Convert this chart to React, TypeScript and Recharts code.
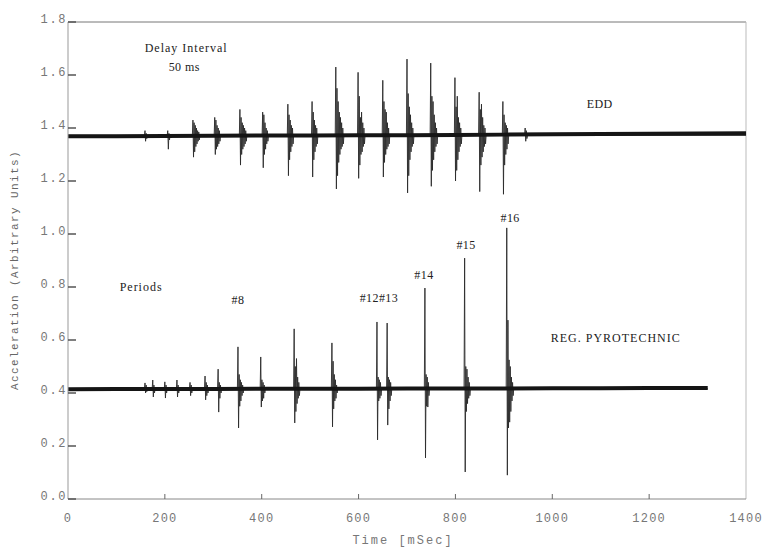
import React from 'react';
import { LineChart, Line, XAxis, YAxis, ReferenceLine, ReferenceDot } from 'recharts';

const X_TICKS = [0, 200, 400, 600, 800, 1000, 1200, 1400];
const Y_TICKS = [0, 0.2, 0.4, 0.6, 0.8, 1.0, 1.2, 1.4, 1.6, 1.8];

// EDD record (upper trace)
const EDD_BASE = 1.372;
const eddBaseTimes = [0, 100, 200, 300, 400, 500, 600, 700, 800, 900, 1000, 1100, 1200, 1300, 1400];
const eddBaseValues = [1.369, 1.369, 1.37, 1.371, 1.372, 1.372, 1.373, 1.373, 1.374, 1.375, 1.376, 1.377, 1.378, 1.379, 1.38];
const eddBurstTimes = [159, 206, 258, 303, 355, 402, 454, 504, 553, 599, 650, 700, 749, 799, 849, 898, 944];
const eddBurstShapes = [
  [1.39, 1.35, 1.38, 1.36],
  [1.39, 1.32, 1.38, 1.355, 1.375],
  [1.43, 1.29, 1.42, 1.31, 1.41, 1.33, 1.4, 1.34, 1.39, 1.35, 1.385, 1.355],
  [1.44, 1.3, 1.43, 1.32, 1.41, 1.33, 1.4, 1.34, 1.39, 1.35],
  [1.47, 1.26, 1.44, 1.3, 1.42, 1.32, 1.41, 1.33, 1.4, 1.34, 1.39, 1.35],
  [1.46, 1.25, 1.45, 1.3, 1.42, 1.32, 1.4, 1.34, 1.39, 1.35],
  [1.49, 1.22, 1.45, 1.28, 1.43, 1.31, 1.41, 1.33, 1.4, 1.34],
  [1.5, 1.215, 1.46, 1.28, 1.43, 1.31, 1.41, 1.33, 1.4, 1.34],
  [1.63, 1.17, 1.55, 1.22, 1.5, 1.27, 1.46, 1.3, 1.44, 1.32, 1.42, 1.33, 1.4, 1.34],
  [1.61, 1.21, 1.52, 1.26, 1.44, 1.3, 1.46, 1.31, 1.42, 1.33, 1.4, 1.34],
  [1.58, 1.215, 1.5, 1.27, 1.47, 1.3, 1.46, 1.32, 1.42, 1.33, 1.4, 1.34],
  [1.66, 1.155, 1.53, 1.22, 1.48, 1.28, 1.45, 1.31, 1.42, 1.33, 1.4, 1.34],
  [1.645, 1.18, 1.52, 1.24, 1.5, 1.28, 1.45, 1.31, 1.42, 1.33, 1.4, 1.34],
  [1.59, 1.2, 1.48, 1.24, 1.52, 1.28, 1.44, 1.31, 1.42, 1.33, 1.4, 1.34],
  [1.535, 1.16, 1.47, 1.26, 1.49, 1.29, 1.44, 1.31, 1.41, 1.33, 1.4, 1.34],
  [1.5, 1.15, 1.45, 1.26, 1.42, 1.3, 1.41, 1.32, 1.4, 1.34],
  [1.4, 1.35, 1.39, 1.36],
];

// Regular pyrotechnic record (lower trace)
const PYRO_BASE = 0.416;
const PYRO_END = 1321;
const pyroBaseTimes = [0, 100, 200, 300, 400, 500, 600, 700, 800, 900, 1000, 1100, 1200, 1321];
const pyroBaseValues = [0.414, 0.415, 0.415, 0.415, 0.416, 0.416, 0.416, 0.417, 0.417, 0.417, 0.418, 0.418, 0.419, 0.419];
const pyroBurstTimes = [159, 175, 200, 225, 252, 283, 310, 351, 398, 467, 545, 638, 659, 737, 819, 906];
const pyroBurstShapes = [
  [0.438, 0.4, 0.43, 0.405],
  [0.449, 0.385, 0.43, 0.4],
  [0.442, 0.381, 0.43, 0.4],
  [0.449, 0.385, 0.43, 0.4],
  [0.44, 0.39, 0.43, 0.4],
  [0.464, 0.374, 0.44, 0.39, 0.43, 0.4],
  [0.49, 0.328, 0.44, 0.38, 0.43, 0.4],
  [0.574, 0.268, 0.47, 0.35, 0.45, 0.37, 0.44, 0.39, 0.43, 0.4],
  [0.536, 0.347, 0.45, 0.37, 0.44, 0.38, 0.43, 0.4],
  [0.642, 0.287, 0.5, 0.33, 0.53, 0.36, 0.46, 0.38, 0.44, 0.39],
  [0.589, 0.272, 0.52, 0.34, 0.47, 0.37, 0.45, 0.38, 0.43, 0.4],
  [0.668, 0.223, 0.46, 0.37, 0.45, 0.38, 0.44, 0.39],
  [0.664, 0.279, 0.46, 0.34, 0.45, 0.37, 0.44, 0.39],
  [0.796, 0.155, 0.47, 0.35, 0.46, 0.347, 0.44, 0.39],
  [0.909, 0.102, 0.5, 0.33, 0.49, 0.36, 0.46, 0.38, 0.44, 0.39],
  [1.023, 0.09, 0.675, 0.268, 0.525, 0.29, 0.5, 0.33, 0.46, 0.37, 0.44, 0.39],
];

// Annotations
const noteTexts = ['Delay Interval', '50 ms', 'EDD', 'Periods', '#8', '#12#13', '#14', '#15', '#16', 'REG. PYROTECHNIC'];
const noteTimes = [244, 240, 1098, 151, 351, 642, 735, 822, 913, 1131];
const noteValues = [1.702, 1.63, 1.491, 0.8, 0.751, 0.758, 0.845, 0.958, 1.06, 0.608];

const SAMPLE_STEP = 1.2; // ms between samples inside a burst

type Pt = { t: number; v: number };

function toPoints(times: number[], values: number[]): Pt[] {
  return times.map((t, i) => ({ t, v: values[i] }));
}

function spikePoints(base: number, times: number[], shapes: number[][], tEnd: number): Pt[] {
  const pts: Pt[] = [{ t: 0, v: base }];
  times.forEach((t0, i) => {
    pts.push({ t: t0 - SAMPLE_STEP, v: base });
    shapes[i].forEach((v, j) => pts.push({ t: t0 + j * SAMPLE_STEP, v }));
    pts.push({ t: t0 + shapes[i].length * SAMPLE_STEP, v: base });
  });
  pts.push({ t: tEnd, v: base });
  return pts;
}

const eddBand = toPoints(eddBaseTimes, eddBaseValues);
const eddSpikes = spikePoints(EDD_BASE, eddBurstTimes, eddBurstShapes, 1400);
const pyroBand = toPoints(pyroBaseTimes, pyroBaseValues);
const pyroSpikes = spikePoints(PYRO_BASE, pyroBurstTimes, pyroBurstShapes, PYRO_END);

const tickFont = '"Liberation Mono", "DejaVu Sans Mono", monospace';
const serifFont = '"Liberation Serif", "DejaVu Serif", serif';

const XTick = (props: any) => {
  const { x, y, payload } = props;
  return (
    <g>
      {payload.value !== 0 && payload.value !== 1400 && (
        <line x1={x} y1={y} x2={x} y2={y - 5} stroke="#666" strokeWidth={1} />
      )}
      <text x={x} y={y + 23} textAnchor="middle" fontFamily={tickFont} fontSize={12} letterSpacing={1.2} fill="#777">
        {payload.value}
      </text>
    </g>
  );
};

const YTick = (props: any) => {
  const { x, y, payload } = props;
  return (
    <g>
      <line x1={x} y1={y} x2={x + 8} y2={y} stroke="#555" strokeWidth={1.5} />
      <text x={x - 1} y={y + 1} textAnchor="end" fontFamily={tickFont} fontSize={12} letterSpacing={1.6} fill="#777">
        {Number(payload.value).toFixed(1)}
      </text>
    </g>
  );
};

const NoteShape = (text: string) => (props: any) => (
  <text
    x={props.cx}
    y={props.cy + 4}
    textAnchor="middle"
    fontFamily={serifFont}
    fontSize={12}
    letterSpacing={text.length > 6 ? 1 : 0.4}
    fill="#222"
  >
    {text}
  </text>
);

export default function App() {
  return (
    <div style={{ position: 'absolute', left: 0, top: 0, width: 764, height: 548, background: '#fff' }}>
      <LineChart width={764} height={548} margin={{ top: 22, right: 18, left: 0, bottom: 0 }}>
        <XAxis
          type="number"
          dataKey="t"
          domain={[0, 1400]}
          ticks={X_TICKS}
          allowDataOverflow
          height={49}
          tickSize={0}
          tickMargin={0}
          tickLine={false}
          axisLine={{ stroke: '#888', strokeWidth: 1 }}
          tick={<XTick />}
          interval={0}
          label={{
            content: () => (
              <text x={403} y={544} textAnchor="middle" fontFamily={tickFont} fontSize={12} letterSpacing={2} fill="#777">
                Time [mSec]
              </text>
            ),
          }}
        />
        <YAxis
          type="number"
          dataKey="v"
          domain={[0, 1.8]}
          ticks={Y_TICKS}
          allowDataOverflow
          width={68}
          tickSize={0}
          tickMargin={0}
          tickLine={false}
          axisLine={{ stroke: '#999', strokeWidth: 1 }}
          tick={<YTick />}
          interval={0}
          label={{
            content: () => (
              <text
                x={18}
                y={270}
                transform="rotate(-90 18 270)"
                textAnchor="middle"
                fontFamily={tickFont}
                fontSize={11}
                letterSpacing={1.4}
                fill="#666"
              >
                Acceleration (Arbitrary Units)
              </text>
            ),
          }}
        />
        <ReferenceLine y={1.8} stroke="#777" strokeWidth={1} />
        <ReferenceLine x={1400} stroke="#bbb" strokeWidth={1} />
        <Line data={eddSpikes} dataKey="v" type="linear" stroke="#2a2a2a" strokeWidth={0.9} dot={false} isAnimationActive={false} />
        <Line data={pyroSpikes} dataKey="v" type="linear" stroke="#2a2a2a" strokeWidth={0.9} dot={false} isAnimationActive={false} />
        <Line data={eddBand} dataKey="v" type="linear" stroke="#151515" strokeWidth={4} dot={false} isAnimationActive={false} />
        <Line data={pyroBand} dataKey="v" type="linear" stroke="#151515" strokeWidth={4} dot={false} isAnimationActive={false} />
        {noteTexts.map((txt, i) => (
          <ReferenceDot key={txt} x={noteTimes[i]} y={noteValues[i]} r={1} shape={NoteShape(txt)} />
        ))}
      </LineChart>
    </div>
  );
}
